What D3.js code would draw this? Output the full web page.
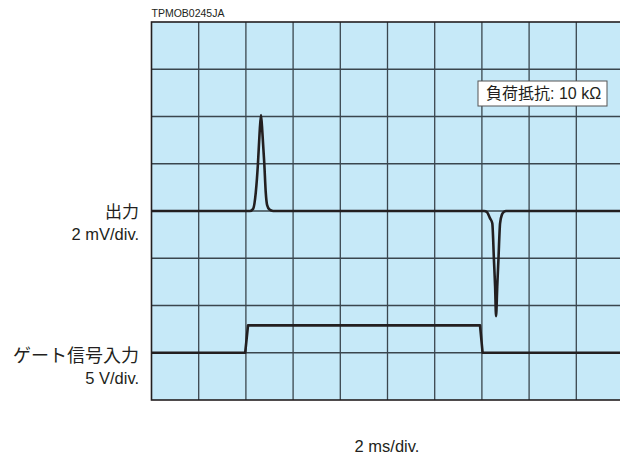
<html>
 <head>
  <meta charset="utf-8">
  <title>ゲート信号と出力</title>
  <script src="https://cdn.jsdelivr.net/npm/d3@7"></script>
  <style>
    body {
        margin: 0;
        background: #fff;
        font-family: "Liberation Sans", Arial, "Noto Sans CJK JP", sans-serif;
    }
    text {
        fill: #231f20;
    }
  </style>
  <script type="application/javascript">
    // time axis: 10 div x 2 ms
    var timeDomain = [0, 20];
    var nDivX = 10, nDivY = 8;

    // output trace (ms, mV), 2 mV/div, baseline on 4th line from bottom
    var outT  = [0, 4.17, 4.31, 4.42, 4.51, 4.58, 4.64, 4.70, 4.78, 4.84, 4.90, 5.00, 5.15,
                 14.09, 14.22, 14.34, 14.44, 14.51, 14.56, 14.60, 14.65, 14.70, 14.77, 14.85, 14.94, 15.02, 20];
    var outMV = [0, 0, 0.1, 0.8, 2.0, 3.3, 4.06, 3.3, 2.0, 0.8, 0.25, 0.06, 0,
                 0, -0.05, -0.3, -0.52, -2.07, -3.2, -4.45, -3.2, -2.07, -0.52, -0.15, -0.03, 0, 0];
    var outOffsetDiv = 4, outPerDiv = 2;

    // gate signal (ms, V), 5 V/div, baseline on 1st line from bottom
    var gateT = [0, 3.97, 4.09, 13.92, 14.03, 20];
    var gateV = [0, 0, 2.9, 2.9, 0, 0];
    var gateOffsetDiv = 1, gatePerDiv = 5;

    var labels = {
      code: "TPMOB0245JA",
      load: "負荷抵抗: 10 kΩ",
      out1: "出力", out2: "2 mV/div.",
      gate1: "ゲート信号入力", gate2: "5 V/div.",
      time: "2 ms/div."
    };

    function start() {
      var W = 620, H = 455;
      var gx0 = 151.5, gy0 = 22, div = 47.2;
      var gx1 = gx0 + nDivX * div, gy1 = gy0 + nDivY * 47.25;

      var svg = d3.select('#draw').append('svg').attr('width', W).attr('height', H);

      var x = d3.scaleLinear().domain(timeDomain).range([gx0, gx1]);
      var y = d3.scaleLinear().domain([0, nDivY]).range([gy1, gy0]);

      svg.append('defs').append('clipPath').attr('id', 'clip')
        .append('rect').attr('x', gx0).attr('y', gy0).attr('width', gx1 - gx0).attr('height', gy1 - gy0);

      svg.append('rect').attr('x', gx0).attr('y', gy0).attr('width', gx1 - gx0).attr('height', gy1 - gy0)
        .attr('fill', '#c6e9f8');

      // grid
      var g = svg.append('g').attr('stroke', '#3a464e').attr('stroke-width', 1.3);
      g.selectAll('line.v').data(d3.range(1, nDivX)).enter().append('line')
        .attr('x1', function(d) { return x(d * 2); }).attr('x2', function(d) { return x(d * 2); })
        .attr('y1', gy0).attr('y2', gy1);
      g.selectAll('line.h').data(d3.range(1, nDivY)).enter().append('line')
        .attr('y1', function(d) { return y(d); }).attr('y2', function(d) { return y(d); })
        .attr('x1', gx0).attr('x2', gx1);

      svg.append('rect').attr('x', gx0).attr('y', gy0).attr('width', gx1 - gx0).attr('height', gy1 - gy0)
        .attr('fill', 'none').attr('stroke', '#231f20').attr('stroke-width', 1.6);

      // traces
      var outLine = d3.line().curve(d3.curveMonotoneX)
        .x(function(d, i) { return x(outT[i]); })
        .y(function(d) { return y(d / outPerDiv + outOffsetDiv); });
      var gateLine = d3.line()
        .x(function(d, i) { return x(gateT[i]); })
        .y(function(d) { return y(d / gatePerDiv + gateOffsetDiv); });

      var tr = svg.append('g').attr('clip-path', 'url(#clip)')
        .attr('fill', 'none').attr('stroke', '#231f20').attr('stroke-width', 2.6)
        .attr('stroke-linejoin', 'round');
      tr.append('path').attr('d', outLine(outMV));
      tr.append('path').attr('d', gateLine(gateV));

      // load box
      var bx = 478, by = 81;
      svg.append('rect').attr('x', bx).attr('y', by).attr('width', 129).attr('height', 25)
        .attr('fill', '#fff').attr('stroke', '#555').attr('stroke-width', 1);
      svg.append('text').attr('x', bx + 8).attr('y', by + 18).attr('font-size', 16).text(labels.load);

      // texts
      svg.append('text').attr('x', gx0).attr('y', 17).attr('font-size', 10.5).text(labels.code);
      var left = svg.append('g').attr('text-anchor', 'end');
      left.append('text').attr('x', 139).attr('y', 218).attr('font-size', 17).text(labels.out1);
      left.append('text').attr('x', 139).attr('y', 240).attr('font-size', 16.5).text(labels.out2);
      left.append('text').attr('x', 139).attr('y', 361.5).attr('font-size', 18).text(labels.gate1);
      left.append('text').attr('x', 139).attr('y', 384).attr('font-size', 16.5).text(labels.gate2);
      svg.append('text').attr('x', 387).attr('y', 452).attr('text-anchor', 'middle')
        .attr('font-size', 16.5).text(labels.time);
    }
  </script>
 </head>
 <body onload="start();">
   <div id="draw"></div>
 </body>
</html>
